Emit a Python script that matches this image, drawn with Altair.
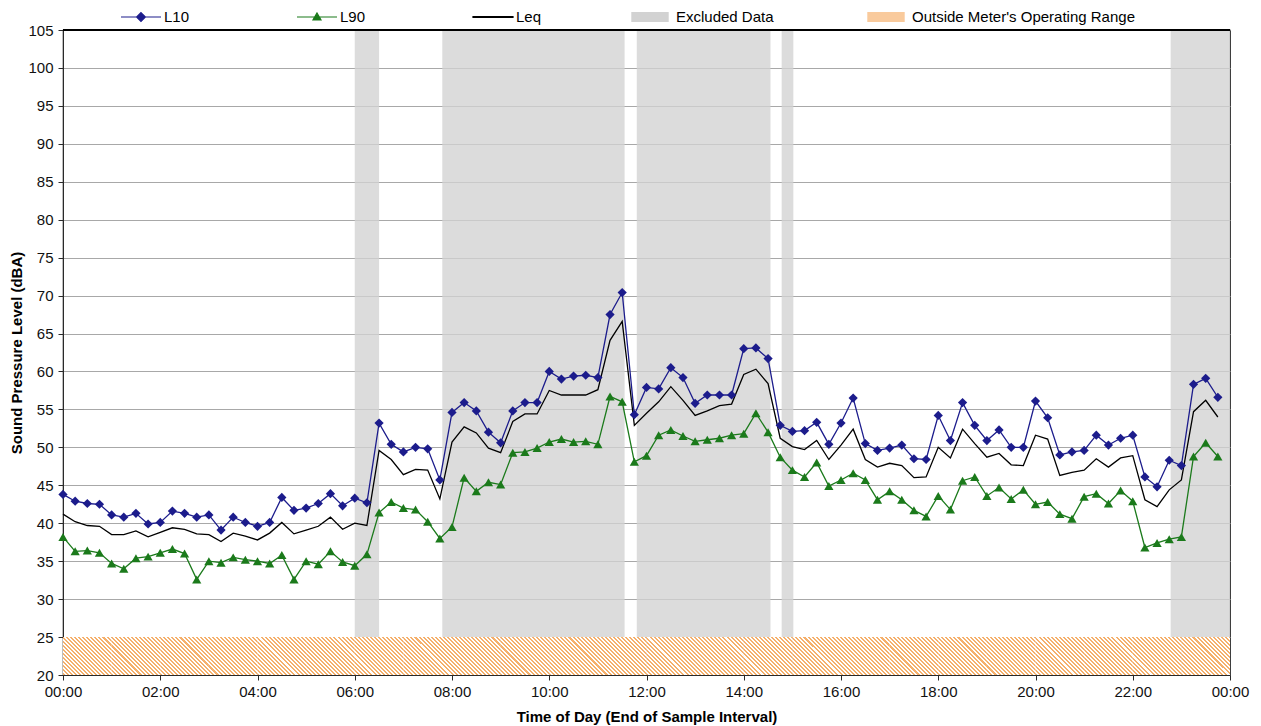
import altair as alt
import pandas as pd

# 15-minute sound level statistics over one day (time = end of sample interval, in hours)
TIMES = [i * 0.25 for i in range(96)]

L10 = [43.8, 42.9, 42.6, 42.5, 41.1, 40.8, 41.3, 39.9, 40.1, 41.6, 41.3, 40.8,
       41.1, 39.1, 40.8, 40.1, 39.6, 40.1, 43.4, 41.7, 42.0, 42.6, 43.9, 42.3,
       43.3, 42.7, 53.2, 50.4, 49.4, 50.0, 49.8, 45.7, 54.6, 55.9, 54.8, 52.0,
       50.6, 54.8, 55.9, 55.9, 60.0, 59.0, 59.4, 59.5, 59.2, 67.5, 70.4, 54.3,
       57.9, 57.7, 60.5, 59.2, 55.8, 56.9, 56.9, 56.9, 63.0, 63.1, 61.7, 52.9,
       52.1, 52.2, 53.3, 50.4, 53.2, 56.5, 50.5, 49.6, 49.9, 50.3, 48.5, 48.4,
       54.2, 50.9, 55.9, 52.9, 50.9, 52.3, 50.0, 50.0, 56.1, 53.9, 49.0, 49.4,
       49.6, 51.6, 50.3, 51.2, 51.6, 46.1, 44.8, 48.3, 47.6, 58.3, 59.1, 56.6]

L90 = [38.2, 36.3, 36.4, 36.1, 34.7, 34.0, 35.4, 35.6, 36.1, 36.6, 36.0, 32.6,
       35.0, 34.8, 35.5, 35.2, 35.0, 34.7, 35.8, 32.6, 35.0, 34.6, 36.3, 34.9,
       34.4, 35.9, 41.4, 42.8, 42.0, 41.8, 40.2, 38.0, 39.5, 46.0, 44.2, 45.4,
       45.1, 49.3, 49.4, 49.9, 50.7, 51.1, 50.7, 50.8, 50.4, 56.7, 56.0, 48.1,
       48.9, 51.6, 52.3, 51.5, 50.8, 51.0, 51.2, 51.6, 51.8, 54.5, 52.0, 48.7,
       47.0, 46.1, 48.0, 44.9, 45.7, 46.6, 45.7, 43.1, 44.2, 43.1, 41.7, 40.9,
       43.6, 41.8, 45.6, 46.1, 43.6, 44.7, 43.2, 44.4, 42.5, 42.8, 41.2, 40.6,
       43.5, 43.9, 42.6, 44.3, 42.9, 36.8, 37.4, 37.9, 38.2, 48.8, 50.6, 48.8]

LEQ = [41.2, 40.2, 39.7, 39.6, 38.5, 38.5, 39.0, 38.2, 38.8, 39.4, 39.2, 38.6,
       38.5, 37.6, 38.7, 38.3, 37.8, 38.7, 40.1, 38.6, 39.1, 39.6, 40.8, 39.2,
       40.0, 39.7, 49.6, 48.4, 46.4, 47.1, 47.0, 43.2, 50.7, 52.7, 51.9, 49.9,
       49.3, 53.4, 54.4, 54.4, 57.5, 56.9, 56.9, 56.9, 57.6, 64.1, 66.6, 52.9,
       54.5, 56.0, 58.0, 56.2, 54.2, 54.8, 55.5, 55.7, 59.6, 60.3, 58.4, 51.2,
       50.1, 49.7, 50.9, 48.4, 50.3, 52.4, 48.4, 47.4, 47.9, 47.6, 46.0, 46.1,
       50.0, 48.6, 52.4, 50.5, 48.7, 49.2, 47.7, 47.6, 51.6, 51.1, 46.3, 46.7,
       47.0, 48.5, 47.4, 48.6, 48.9, 43.1, 42.2, 44.4, 45.7, 54.7, 56.2, 54.0]

SERIES = ["L10", "L90", "Leq"]
SERIES_COLORS = ["#1C1C8C", "#1B7A1B", "#000000"]

# Periods excluded from the analysis (start, end in hours)
EXCLUDED_START = [6.0, 7.8, 11.8, 14.78, 22.78]
EXCLUDED_END = [6.5, 11.55, 14.55, 15.02, 24.0]

# Level below which the meter cannot measure
METER_FLOOR = 25
Y_MIN, Y_MAX = 20, 105
Y_TICKS = list(range(Y_MIN, Y_MAX + 1, 5))
X_TICKS = list(range(0, 25, 2))

EXCL = "Excluded Data"
OUTSIDE = "Outside Meter's Operating Range"
FONT = "Liberation Sans"

rows = []
for name, vals in zip(SERIES, [L10, L90, LEQ]):
    for t, v in zip(TIMES, vals):
        rows.append({"time": t, "series": name, "level": v})
df = pd.DataFrame(rows)

bands = pd.DataFrame({
    "time": EXCLUDED_START,
    "end": EXCLUDED_END,
    "level": [Y_MIN] * len(EXCLUDED_START),
    "hi": [Y_MAX] * len(EXCLUDED_START),
    "band": [EXCL] * len(EXCLUDED_START),
})

# The out-of-range strip is split into hourly tiles so each tile's hatch gradient stays short
N_TILES = 24
floor_band = pd.DataFrame({
    "time": [24.0 * i / N_TILES for i in range(N_TILES)],
    "end": [24.0 * (i + 1) / N_TILES for i in range(N_TILES)],
    "level": [Y_MIN] * N_TILES,
    "hi": [METER_FLOOR] * N_TILES,
})
frame_top = pd.DataFrame({"time": [0.0], "end": [24.0], "level": [Y_MAX]})

PLOT_W, PLOT_H = 1167, 645

# Diagonal orange hatching built as a hard-stop gradient over one tile
tile_w = PLOT_W / N_TILES
tile_h = PLOT_H * (METER_FLOOR - Y_MIN) / (Y_MAX - Y_MIN)
ratio = tile_h / tile_w
k = (1 + ratio) / (1 + ratio ** 2)
span = tile_w + tile_h
period = tile_w / 12
ink = period / 2
stops = []
pos = -period
ink_color, gap_color = "#F5B06C", "#FFFFFF"
while pos < span:
    a = min(max(pos / span, 0.0), 1.0)
    b = min(max((pos + ink) / span, 0.0), 1.0)
    c = min(max((pos + period) / span, 0.0), 1.0)
    stops += [alt.GradientStop(offset=a, color=ink_color),
              alt.GradientStop(offset=b, color=ink_color),
              alt.GradientStop(offset=b, color=gap_color),
              alt.GradientStop(offset=c, color=gap_color)]
    pos += period
hatch = alt.Gradient(gradient="linear", stops=stops, x1=0, y1=1, x2=k, y2=1 - k * ratio)

x_scale = alt.Scale(domain=[0, 24], nice=False, zero=False)
y_scale = alt.Scale(domain=[Y_MIN, Y_MAX], nice=False, zero=False)

x_axis = alt.Axis(
    values=X_TICKS,
    labelExpr="(datum.value % 24 < 10 ? '0' : '') + (datum.value % 24) + ':00'",
    title="Time of Day (End of Sample Interval)",
    grid=False, tickSize=5, labelPadding=4, titlePadding=10,
    labelFlush=False, labelOverlap=False,
)
y_axis = alt.Axis(
    values=Y_TICKS,
    title="Sound Pressure Level (dBA)",
    grid=True, gridColor="#A8A8A8", gridWidth=1,
    tickSize=5, labelPadding=5, titlePadding=3,
    labelFlush=False, labelOverlap=False,
)

X = alt.X("time:Q", scale=x_scale, axis=x_axis)
Y = alt.Y("level:Q", scale=y_scale, axis=y_axis)

band_legend = alt.Legend(
    title=None, orient="none", legendX=568, legendY=-32, direction="horizontal",
    columns=2, columnPadding=93, labelOffset=7, padding=0, labelLimit=400,
    labelFont=FONT, labelFontSize=15, labelColor="#000",
    symbolType="M-1,-0.27H1V0.27H-1Z", symbolSize=1400, symbolStrokeWidth=0, symbolOpacity=1,
)

excluded = alt.Chart(bands).mark_rect(opacity=0.78).encode(
    x=X, x2="end:Q", y=Y, y2="hi:Q",
    fill=alt.Fill("band:N", scale=alt.Scale(domain=[EXCL, OUTSIDE], range=["#D2D2D2", "#F9CA9C"]),
                  legend=band_legend),
)

floor = alt.Chart(floor_band).mark_rect(fill=hatch).encode(
    x=X, x2="end:Q", y=Y, y2="hi:Q",
)

top_edge = alt.Chart(frame_top).mark_rule(color="#000", strokeWidth=2).encode(
    x=X, x2="end:Q", y=Y,
)

# Legend symbols: a short line through the series marker (Leq drawn as a thicker bar)
shape_expr = (
    "datum.value === 'L10' ? 'M-1,0H1M0,-0.22L0.22,0L0,0.22L-0.22,0Z' : "
    "datum.value === 'L90' ? 'M-1,0H1M0,-0.2L0.2,0.15L-0.2,0.15Z' : 'M-1,-0.025H1V0.025H-1Z'"
)
series_legend = alt.Legend(
    title=None, orient="none", legendX=57, legendY=-34, direction="horizontal",
    columns=3, columnPadding=104, labelOffset=2, padding=0,
    labelFont=FONT, labelFontSize=15, labelColor="#000",
    symbolSize=1600, symbolOpacity=1, symbolStrokeWidth=1.2,
    symbolType={"expr": shape_expr},
    symbolStrokeColor={"expr": "scale('color', datum.value)"},
)

color_scale = alt.Scale(domain=SERIES, range=SERIES_COLORS)

lines = alt.Chart(df).mark_line().encode(
    x=X, y=Y,
    color=alt.Color("series:N", scale=color_scale, legend=None),
    strokeWidth=alt.StrokeWidth("series:N", scale=alt.Scale(domain=SERIES, range=[1.3, 1.3, 2.2]), legend=None),
)

points = alt.Chart(df).transform_filter("datum.series !== 'Leq'").mark_point(
    filled=True, opacity=1, size=85
).encode(
    x=X, y=Y,
    color=alt.Color("series:N", scale=color_scale, legend=series_legend),
    shape=alt.Shape("series:N", scale=alt.Scale(domain=["L10", "L90"], range=["diamond", "triangle-up"]), legend=None),
)

chart = alt.layer(excluded, floor, top_edge, lines, points).resolve_legend(
    color="independent"
).properties(
    width=PLOT_W, height=PLOT_H,
    autosize=alt.AutoSizeParams(type="none"),
    padding={"left": 63, "top": 30, "right": 31, "bottom": 51},
    background="white",
).configure_view(
    stroke="#2A2A2A", strokeWidth=1.2,
).configure_axis(
    labelFont=FONT, labelFontSize=15, labelColor="#111",
    titleFont=FONT, titleFontSize=15, titleFontWeight="bold", titleColor="#000",
    domainColor="#2A2A2A", tickColor="#2A2A2A",
)

chart.save("out.html", embed_options={"renderer": "svg", "actions": False})
